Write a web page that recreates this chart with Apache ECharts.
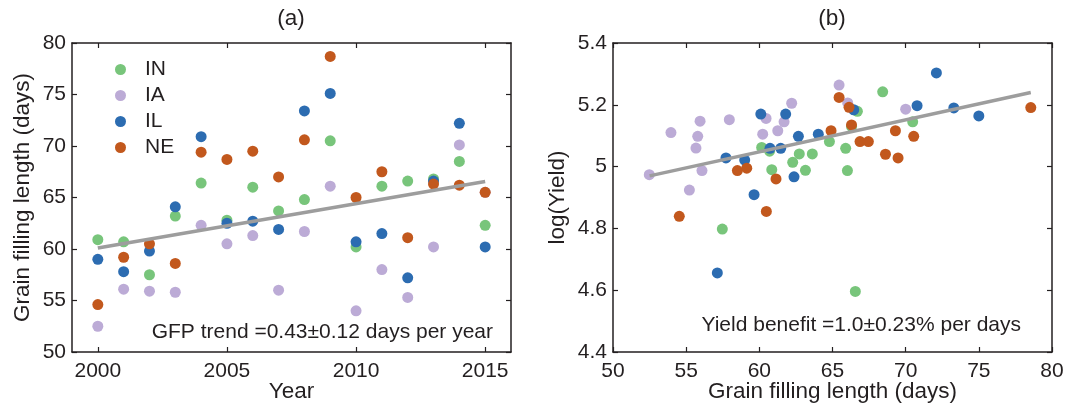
<!DOCTYPE html>
<html>
<head>
<meta charset="utf-8">
<script src="https://cdn.jsdelivr.net/npm/echarts@6/dist/echarts.min.js"></script>
<style>
html,body{margin:0;padding:0;background:#fff;}
#chart{width:1068px;height:408px;}
</style>
</head>
<body>
<div id="chart"></div>
<script>
// ---------- data ----------
const states = ['IN', 'IA', 'IL', 'NE'];
const years = [2000,2001,2002,2003,2004,2005,2006,2007,2008,2009,2010,2011,2012,2013,2014,2015];
// panel (a): grain filling length (days) by year
const gfpIN = [60.9,60.7,57.5,63.2,66.4,62.8,66.0,63.7,64.8,70.5,60.2,66.1,66.6,66.8,68.5,62.3];
const gfpIA = [52.5,56.1,55.9,55.8,62.3,60.5,61.3,56.0,61.7,66.1,54.0,58.0,55.3,60.2,70.1,65.5];
const gfpIL = [59.0,57.8,59.8,64.1,70.9,62.5,62.7,61.9,73.4,75.1,60.7,61.5,57.2,66.6,72.2,60.2];
const gfpNE = [54.6,59.2,60.5,58.6,69.4,68.7,69.5,67.0,70.6,78.7,65.0,67.5,61.1,66.3,66.2,65.5];
const trendAx = [2000, 2015];
const trendAy = [60.1, 66.55];
// panel (b): grain filling length (days) vs log(yield)
const daysIN = [57.47,60.16,60.70,60.85,62.28,62.73,63.15,63.62,64.79,65.90,66.02,66.56,66.70,66.30,68.43,70.48];
const logYIN = [4.798,5.062,5.050,4.990,5.014,5.041,4.988,5.041,5.081,5.059,4.987,4.596,5.179,5.130,5.242,5.145];
const daysIA = [52.48,53.96,55.22,55.67,55.79,55.95,56.08,57.95,60.23,60.46,61.26,61.69,62.21,65.45,66.04,70.00];
const logYIA = [4.974,5.110,4.924,5.060,5.098,5.147,4.987,5.152,5.105,5.156,5.116,5.145,5.205,5.264,5.206,5.186];
const daysIL = [57.13,57.72,59.00,59.64,60.10,60.73,61.46,61.80,62.37,62.67,64.03,66.45,70.78,72.10,73.29,75.00];
const logYIL = [4.656,5.028,5.021,4.909,5.170,5.059,5.059,5.170,4.967,5.098,5.105,5.184,5.197,5.303,5.190,5.164];
const daysNE = [54.53,58.50,59.14,60.48,61.14,64.90,65.45,66.13,66.30,66.88,67.45,68.62,69.30,69.48,70.55,78.55];
const logYNE = [4.839,4.987,4.995,4.855,4.960,5.116,5.224,5.192,5.135,5.081,5.081,5.040,5.116,5.028,5.098,5.191];
const trendBx = [52.5, 78.55];
const trendBy = [4.97, 5.24];
// tick labels
const yearTicks = [2000, 2005, 2010, 2015];
const titles = ['(a)', '(b)'];
const noteA = 'GFP trend =0.43\u00b10.12 days per year';
const noteB = 'Yield benefit =1.0\u00b10.23% per days';

// ---------- styling ----------
const ink = '#231f20';
const font = '"Liberation Sans", Arial, Helvetica, sans-serif';
const colors = {IN:'#78c57b', IA:'#bcabd6', IL:'#2c6cb1', NE:'#c2581d'};
const FS = 21;     // tick labels, legend
const NFS = 22.5;  // axis names

const zip = (a, b) => a.map((v, i) => [v, b[i]]);
const gfpBy = {IN:gfpIN, IA:gfpIA, IL:gfpIL, NE:gfpNE};
const daysBy = {IN:daysIN, IA:daysIA, IL:daysIL, NE:daysNE};
const logYBy = {IN:logYIN, IA:logYIA, IL:logYIL, NE:logYNE};

function axis(o) {
  const base = {
    type: 'value',
    axisLine: {show: true, onZero: false, lineStyle: {color: ink, width: 1.5}},
    axisTick: {show: true, inside: true, length: 5, lineStyle: {color: ink, width: 1.2}},
    axisLabel: {color: ink, fontSize: FS, fontFamily: font},
    splitLine: {show: false},
    nameTextStyle: {color: ink, fontSize: NFS, fontFamily: font},
    nameLocation: 'middle',
    nameMoveOverlap: false
  };
  const r = Object.assign({}, base, o);
  if (o.axisTick) r.axisTick = Object.assign({}, base.axisTick, o.axisTick);
  if (o.axisLabel) r.axisLabel = Object.assign({}, base.axisLabel, o.axisLabel);
  return r;
}

const series = [];
states.forEach(s => {
  series.push({
    name: s, type: 'scatter', xAxisIndex: 0, yAxisIndex: 0,
    symbol: 'circle', symbolSize: 11,
    itemStyle: {color: colors[s], opacity: 1},
    data: zip(years, gfpBy[s]), z: 3
  });
});
states.forEach(s => {
  series.push({
    name: s, type: 'scatter', xAxisIndex: 2, yAxisIndex: 2,
    symbol: 'circle', symbolSize: 11,
    itemStyle: {color: colors[s], opacity: 1},
    data: zip(daysBy[s], logYBy[s]), z: 3
  });
});
series.push({
  type: 'line', xAxisIndex: 0, yAxisIndex: 0, data: zip(trendAx, trendAy),
  symbol: 'none', lineStyle: {color: '#9d9d9d', width: 3.5}, z: 5, silent: true
});
series.push({
  type: 'line', xAxisIndex: 2, yAxisIndex: 2, data: zip(trendBx, trendBy),
  symbol: 'none', lineStyle: {color: '#9d9d9d', width: 3.5}, z: 5, silent: true
});

const option = {
  animation: false,
  backgroundColor: '#fff',
  textStyle: {fontFamily: font},
  grid: [
    {left: 72, right: 557, top: 43, bottom: 56, containLabel: false, outerBoundsMode: 'none'},
    {left: 613, right: 16, top: 43, bottom: 56, containLabel: false, outerBoundsMode: 'none'}
  ],
  legend: {
    data: states, orient: 'vertical', left: 110, top: 54,
    icon: 'circle', itemWidth: 11, itemHeight: 11, itemGap: 5,
    textStyle: {color: ink, fontSize: FS, fontFamily: font, padding: [0, 0, 0, 14]}
  },
  xAxis: [
    axis({gridIndex: 0, min: 1999, max: 2016, position: 'bottom', name: 'Year', nameGap: 28,
      axisTick: {customValues: yearTicks},
      axisLabel: {customValues: yearTicks, margin: 9, formatter: v => String(v)}}),
    axis({gridIndex: 0, min: 1999, max: 2016, position: 'top',
      axisTick: {customValues: yearTicks}, axisLabel: {show: false}}),
    axis({gridIndex: 1, min: 50, max: 80, interval: 5, position: 'bottom',
      name: 'Grain filling length (days)', nameGap: 28, axisLabel: {margin: 9}}),
    axis({gridIndex: 1, min: 50, max: 80, interval: 5, position: 'top', axisLabel: {show: false}})
  ],
  yAxis: [
    axis({gridIndex: 0, min: 50, max: 80, interval: 5, position: 'left',
      name: 'Grain filling length (days)', nameGap: 38, axisLabel: {margin: 6}}),
    axis({gridIndex: 0, min: 50, max: 80, interval: 5, position: 'right', axisLabel: {show: false}}),
    axis({gridIndex: 1, min: 4.4, max: 5.4, interval: 0.2, position: 'left',
      name: 'log(Yield)', nameGap: 44, axisLabel: {margin: 6}}),
    axis({gridIndex: 1, min: 4.4, max: 5.4, interval: 0.2, position: 'right', axisLabel: {show: false}})
  ],
  graphic: [
    {type: 'text', x: 291, y: 19, style: {text: titles[0], fill: ink, font: NFS + 'px ' + font, textAlign: 'center', textVerticalAlign: 'middle'}},
    {type: 'text', x: 832, y: 19, style: {text: titles[1], fill: ink, font: NFS + 'px ' + font, textAlign: 'center', textVerticalAlign: 'middle'}},
    {type: 'text', x: 493, y: 332, z: 10, style: {text: noteA, fill: ink, font: '21px ' + font, textAlign: 'right', textVerticalAlign: 'middle'}},
    {type: 'text', x: 1021, y: 325, z: 10, style: {text: noteB, fill: ink, font: '21px ' + font, textAlign: 'right', textVerticalAlign: 'middle'}}
  ],
  series: series
};

const chart = echarts.init(document.getElementById('chart'), null, {renderer: 'canvas'});
chart.setOption(option);
</script>
</body>
</html>
